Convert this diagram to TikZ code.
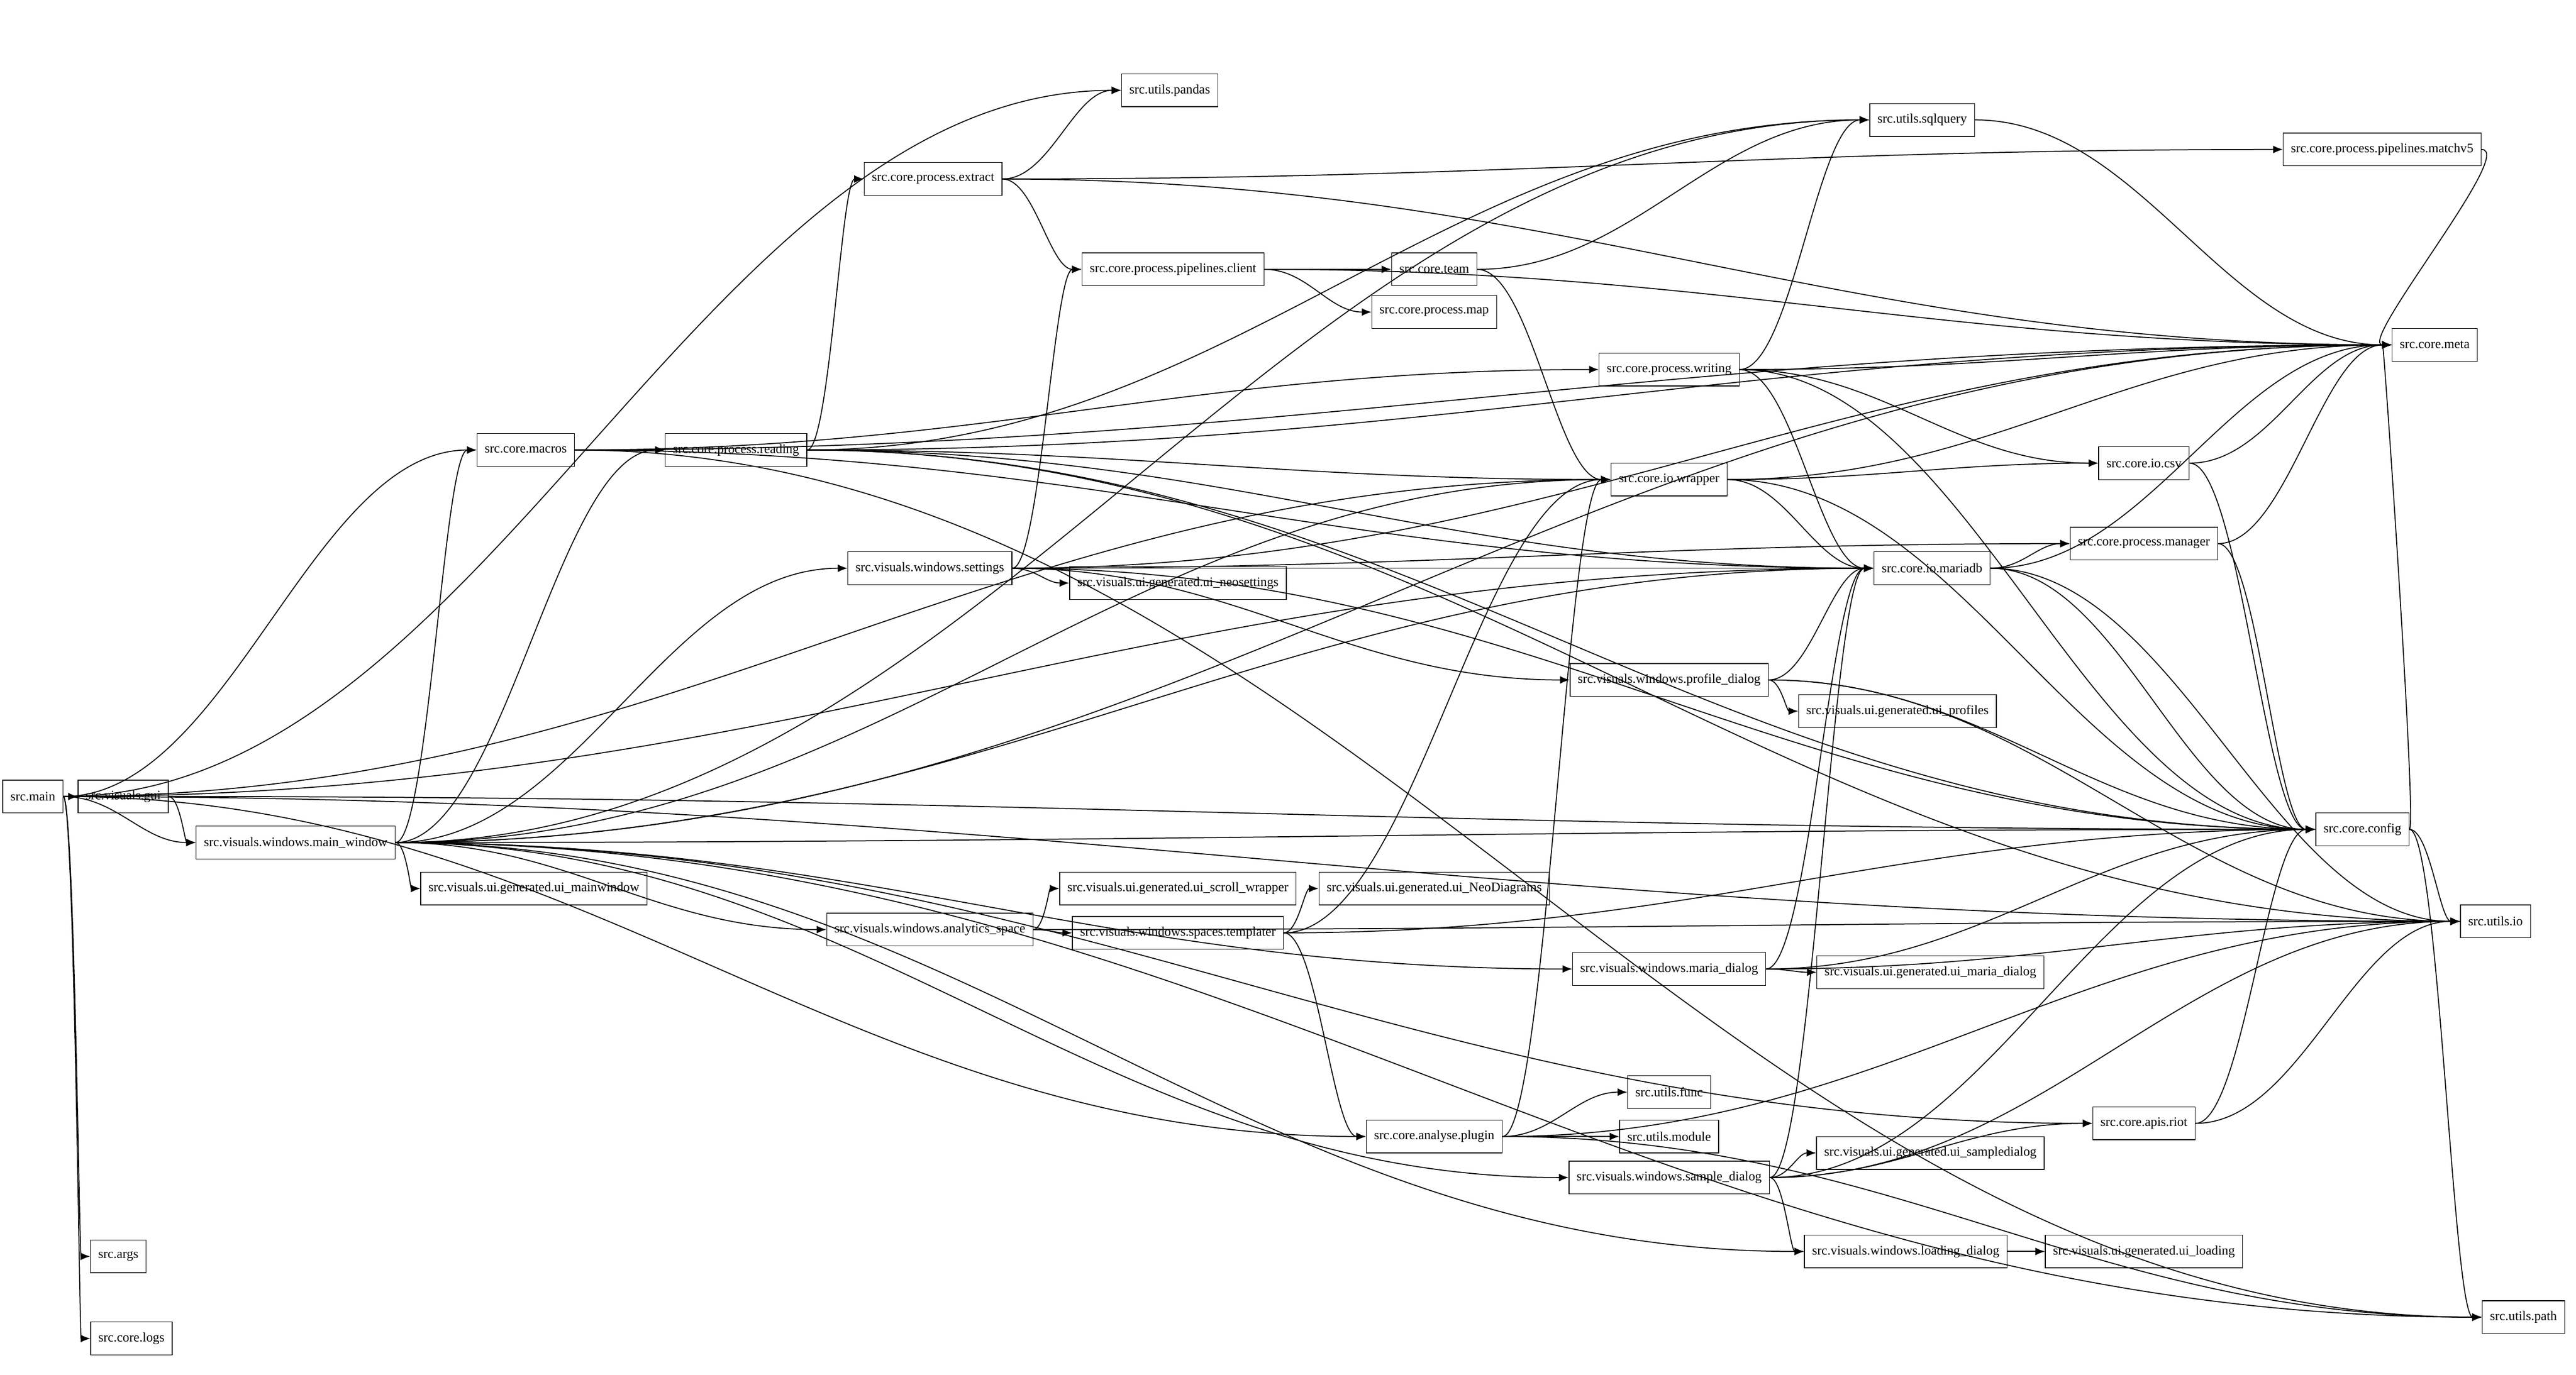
\documentclass[tikz,border=0pt]{standalone}
\usepackage{fontspec}
\setmainfont{Liberation Serif}
\usetikzlibrary{arrows.meta,calc}
\tikzset{
  mod/.style={draw, rectangle, minimum height=0.6cm, inner xsep=4pt, font=\fontsize{6.8}{8}\selectfont},
  dep/.style={-{Latex[length=5pt,width=4pt]}, line width=0.5pt}
}
\begin{document}
\begin{tikzpicture}[x=0.03cm, y=-0.03cm]
  \useasboundingbox (0,0) rectangle (1568,837);
  % modules
  \node[mod] (main) at (20,485) {src.main};
  \node[mod] (gui) at (75,485) {src.visuals.gui};
  \node[mod] (mainwin) at (180,513) {src.visuals.windows.main\_window};
  \node[mod] (uimain) at (325,541) {src.visuals.ui.generated.ui\_mainwindow};
  \node[mod] (args) at (72,765) {src.args};
  \node[mod] (logs) at (80,815) {src.core.logs};
  \node[mod] (macros) at (320,274) {src.core.macros};
  \node[mod] (reading) at (448,274) {src.core.process.reading};
  \node[mod] (pandas) at (712,55) {src.utils.pandas};
  \node[mod] (sqlquery) at (1170,73) {src.utils.sqlquery};
  \node[mod] (extract) at (568,109) {src.core.process.extract};
  \node[mod] (matchv) at (1450,91) {src.core.process.pipelines.matchv5};
  \node[mod] (client) at (714,164) {src.core.process.pipelines.client};
  \node[mod] (team) at (873,164) {src.core.team};
  \node[mod] (map) at (873,190) {src.core.process.map};
  \node[mod] (meta) at (1482,210) {src.core.meta};
  \node[mod] (writing) at (1016,225) {src.core.process.writing};
  \node[mod] (wrapper) at (1016,292) {src.core.io.wrapper};
  \node[mod] (csv) at (1305,282) {src.core.io.csv};
  \node[mod] (manager) at (1305,331) {src.core.process.manager};
  \node[mod] (settings) at (566,346) {src.visuals.windows.settings};
  \node[mod] (uineo) at (717,355) {src.visuals.ui.generated.ui\_neosettings};
  \node[mod] (mariadb) at (1176,346) {src.core.io.mariadb};
  \node[mod] (profile) at (1016,414) {src.visuals.windows.profile\_dialog};
  \node[mod] (uiprof) at (1155,433) {src.visuals.ui.generated.ui\_profiles};
  \node[mod] (config) at (1438,505) {src.core.config};
  \node[mod] (utilsio) at (1519,561) {src.utils.io};
  \node[mod] (analytics) at (566,566) {src.visuals.windows.analytics\_space};
  \node[mod] (uiscroll) at (717,541) {src.visuals.ui.generated.ui\_scroll\_wrapper};
  \node[mod] (templater) at (717,568) {src.visuals.windows.spaces.templater};
  \node[mod] (uidiag) at (873,541) {src.visuals.ui.generated.ui\_NeoDiagrams};
  \node[mod] (maria) at (1016,590) {src.visuals.windows.maria\_dialog};
  \node[mod] (uimaria) at (1175,592) {src.visuals.ui.generated.ui\_maria\_dialog};
  \node[mod] (func) at (1016,665) {src.utils.func};
  \node[mod] (module) at (1016,692) {src.utils.module};
  \node[mod] (plugin) at (873,692) {src.core.analyse.plugin};
  \node[mod] (riot) at (1305,684) {src.core.apis.riot};
  \node[mod] (sample) at (1016,717) {src.visuals.windows.sample\_dialog};
  \node[mod] (uisample) at (1175,702) {src.visuals.ui.generated.ui\_sampledialog};
  \node[mod] (loading) at (1160,762) {src.visuals.windows.loading\_dialog};
  \node[mod] (uiload) at (1305,762) {src.visuals.ui.generated.ui\_loading};
  \node[mod] (path) at (1536,802) {src.utils.path};

  % imports
  \foreach \a/\b in {main/gui, main/mainwin, main/args, main/logs, main/macros, main/pandas,
      main/wrapper, main/mariadb, main/utilsio, main/plugin,
      gui/mainwin, gui/config,
      mainwin/uimain, mainwin/config, mainwin/macros, mainwin/reading, mainwin/settings,
      mainwin/sqlquery, mainwin/meta, mainwin/wrapper, mainwin/mariadb, mainwin/analytics,
      mainwin/maria, mainwin/sample, mainwin/riot, mainwin/loading, mainwin/path,
      macros/reading, macros/writing, macros/mariadb, macros/meta, macros/path,
      reading/extract, reading/sqlquery, reading/meta, reading/wrapper, reading/mariadb,
      reading/config, reading/utilsio,
      extract/pandas, extract/matchv, extract/meta, extract/client,
      client/team, client/map, client/meta, team/sqlquery, team/wrapper,
      sqlquery/meta, matchv/meta,
      writing/sqlquery, writing/meta, writing/csv, writing/mariadb, writing/config,
      wrapper/csv, wrapper/meta, wrapper/mariadb, wrapper/config,
      csv/meta, csv/config, manager/meta, manager/config,
      settings/client, settings/uineo, settings/manager, settings/mariadb, settings/profile,
      settings/config, settings/meta,
      mariadb/manager, mariadb/meta, mariadb/utilsio, mariadb/config,
      profile/uiprof, profile/mariadb, profile/config, profile/utilsio,
      config/utilsio, config/meta, config/path,
      analytics/uiscroll, analytics/templater, analytics/utilsio,
      templater/uidiag, templater/wrapper, templater/config, templater/plugin,
      maria/uimaria, maria/mariadb, maria/config, maria/utilsio,
      plugin/func, plugin/module, plugin/wrapper, plugin/path, plugin/utilsio,
      sample/uisample, sample/riot, sample/loading, sample/mariadb, sample/config, sample/utilsio,
      riot/config, riot/utilsio, loading/uiload}
    \draw[dep] let \p1=(\a.east), \p2=(\b.west), \n1={max(0.4*abs(\x2-\x1),4pt)} in
      (\p1) .. controls +(\n1,0) and +(-\n1,0) .. (\p2);
\end{tikzpicture}
\end{document}
